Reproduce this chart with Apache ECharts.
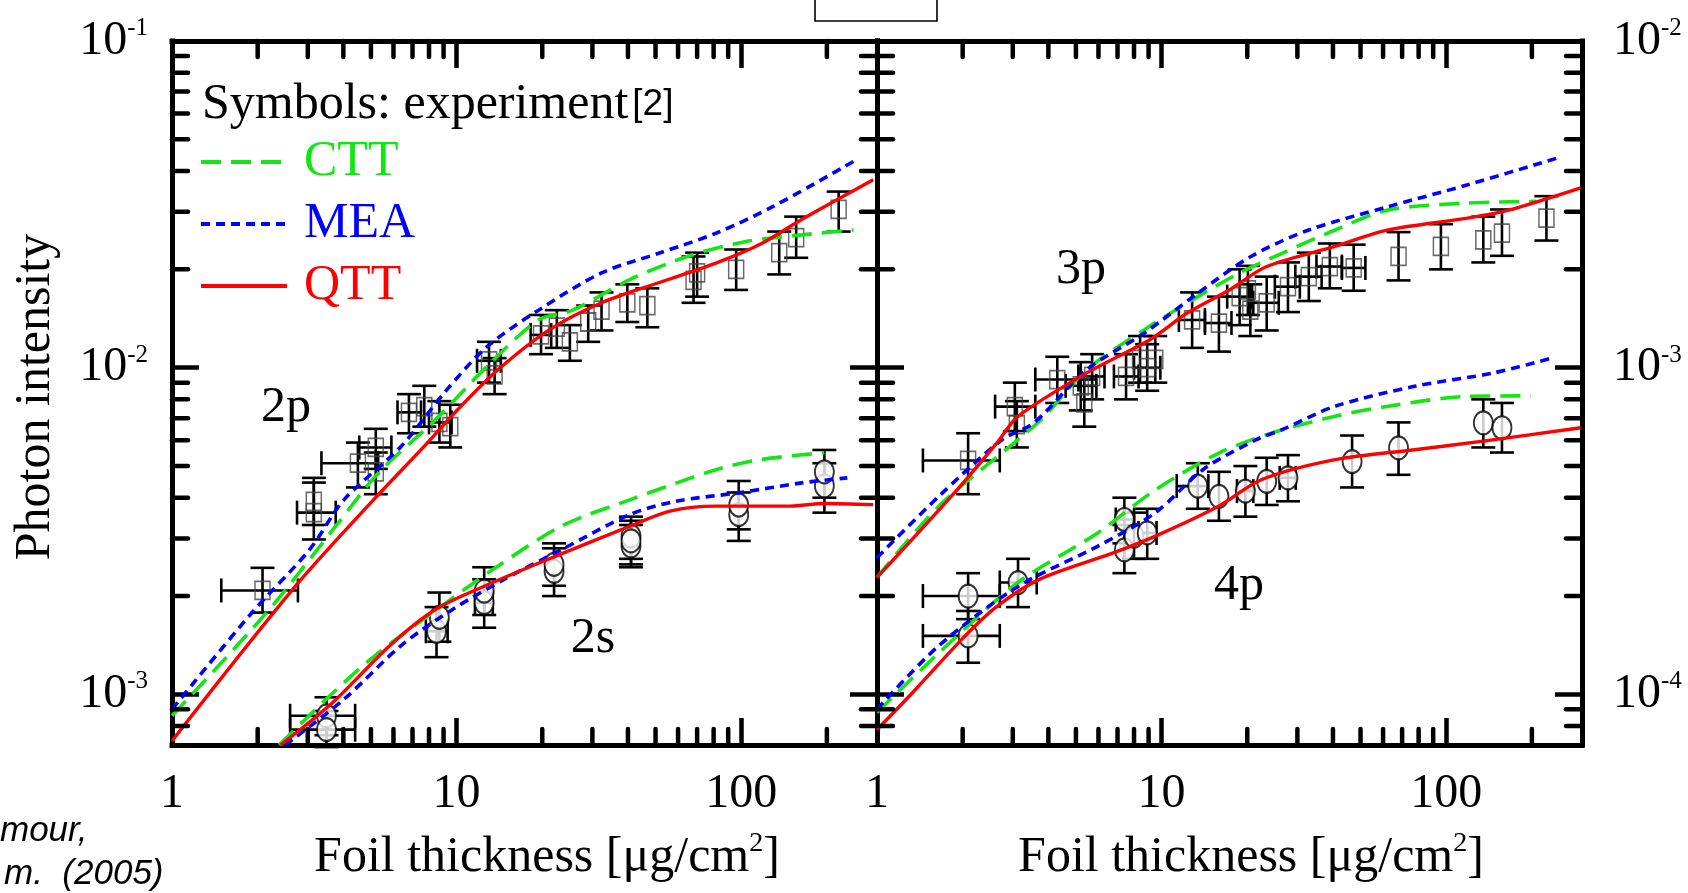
<!DOCTYPE html>
<html>
<head>
<meta charset="utf-8">
<script src="https://cdn.jsdelivr.net/npm/echarts@6/dist/echarts.min.js"></script>
<style>
  html, body { margin: 0; padding: 0; background: #ffffff; }
  #chart { width: 1688px; height: 893px; }
</style>
</head>
<body>
<div id="chart"></div>
<script>
// ---------- axis ticks ----------
const xTickValues = [1, 10, 100];
const xTickLabels = ['1', '10', '100'];
const xMinorValues = [2, 3, 4, 5, 6, 7, 8, 9, 20, 30, 40, 50, 60, 70, 80, 90, 200];
const yTickExpLeft = [-3, -2, -1];
const yTickExpRight = [-4, -3, -2];
const yMinorLeft = [8e-4, 9e-4, 2e-3, 3e-3, 4e-3, 5e-3, 6e-3, 7e-3, 8e-3, 9e-3,
                    2e-2, 3e-2, 4e-2, 5e-2, 6e-2, 7e-2, 8e-2, 9e-2];
const yMinorRight = [8e-5, 9e-5, 2e-4, 3e-4, 4e-4, 5e-4, 6e-4, 7e-4, 8e-4, 9e-4,
                     2e-3, 3e-3, 4e-3, 5e-3, 6e-3, 7e-3, 8e-3, 9e-3];

// ---------- left panel: 2p / 2s ----------
const exp2pX   = [2.08, 3.15, 3.15, 4.5, 5.2, 5.2, 6.8, 7.7, 8.7, 9.5, 13.0, 13.6, 19.8, 22.5, 25, 29, 32.3, 39.8, 46.8, 68, 70, 96, 136, 156, 220];
const exp2pY   = [2.08e-3, 3.6e-3, 3.9e-3, 5.1e-3, 5.7e-3, 4.8e-3, 7.3e-3, 7.6e-3, 6.8e-3, 6.6e-3, 1.05e-2, 9.5e-3, 1.26e-2, 1.33e-2, 1.2e-2, 1.38e-2, 1.5e-2, 1.58e-2, 1.55e-2, 1.85e-2, 1.95e-2, 2.0e-2, 2.25e-2, 2.5e-2, 3.05e-2];
const exp2pLo  = [1.78e-3, 2.98e-3, 3.3e-3, 4.3e-3, 4.9e-3, 4.1e-3, 6.3e-3, 6.6e-3, 5.9e-3, 5.7e-3, 9.0e-3, 8.3e-3, 1.1e-2, 1.15e-2, 1.05e-2, 1.2e-2, 1.3e-2, 1.38e-2, 1.33e-2, 1.58e-2, 1.65e-2, 1.73e-2, 1.93e-2, 2.17e-2, 2.61e-2];
const exp2pHi  = [2.44e-3, 4.45e-3, 4.6e-3, 5.9e-3, 6.5e-3, 5.5e-3, 8.3e-3, 8.8e-3, 7.9e-3, 7.7e-3, 1.2e-2, 1.07e-2, 1.45e-2, 1.5e-2, 1.35e-2, 1.55e-2, 1.7e-2, 1.8e-2, 1.75e-2, 2.19e-2, 2.25e-2, 2.3e-2, 2.61e-2, 2.9e-2, 3.46e-2];
const exp2pXLo = [1.49, 2.75, null, 3.35, 4.55, null, 6.2, null, 8.0, null, 11.8, null, 18.2, null, null, null, null, null, null, null, null, null, null, null, null];
const exp2pXHi = [2.77, 3.76, null, 5.3, 5.9, null, 7.5, null, 9.6, null, 14.3, null, 21.5, null, null, null, null, null, null, null, null, null, null, null, null];

const exp2sX   = [3.49, 3.49, 8.5, 8.7, 12.5, 12.5, 22, 22, 41, 41, 41, 98, 98, 196, 196];
const exp2sY   = [8.6e-4, 7.8e-4, 1.56e-3, 1.72e-3, 1.91e-3, 2.07e-3, 2.38e-3, 2.5e-3, 2.85e-3, 3.05e-3, 2.95e-3, 3.55e-3, 3.8e-3, 4.35e-3, 4.8e-3];
const exp2sLo  = [7.5e-4, 6.9e-4, 1.3e-3, 1.45e-3, 1.6e-3, 1.75e-3, 2.0e-3, 2.15e-3, 2.45e-3, 2.6e-3, 2.5e-3, 2.95e-3, 3.2e-3, 3.6e-3, 4.0e-3];
const exp2sHi  = [9.8e-4, 8.9e-4, 1.85e-3, 2.05e-3, 2.25e-3, 2.45e-3, 2.8e-3, 2.9e-3, 3.3e-3, 3.5e-3, 3.4e-3, 4.15e-3, 4.5e-3, 5.1e-3, 5.6e-3];
const exp2sXLo = [2.6, 2.6, 7.8, null, 11.6, null, null, null, null, null, null, null, null, null, null];
const exp2sXHi = [4.4, 4.4, 9.3, null, 13.4, null, null, null, null, null, null, null, null, null, null];

const ctt2pX = [1, 2.15, 3.84, 5.31, 8.43, 12.8, 19.4, 25.6, 40.6, 64.7, 103, 163, 248];
const ctt2pY = [8.6e-4, 1.78e-3, 3.35e-3, 4.76e-3, 6.93e-3, 1.01e-2, 1.40e-2, 1.50e-2, 1.86e-2, 2.19e-2, 2.43e-2, 2.55e-2, 2.64e-2];
const mea2pX = [1, 1.91, 3.04, 4.02, 6.38, 9.25, 12.8, 19.4, 32.3, 51.3, 81.5, 129, 248];
const mea2pY = [9.0e-4, 1.78e-3, 2.77e-3, 3.94e-3, 5.74e-3, 8.57e-3, 1.16e-2, 1.50e-2, 1.95e-2, 2.24e-2, 2.58e-2, 3.11e-2, 4.28e-2];
const qtt2pX = [1, 2.71, 5.19, 7.69, 10.1, 14.0, 21.3, 32.3, 51.2, 81.5, 118, 163, 291];
const qtt2pY = [7.2e-4, 2.14e-3, 4.0e-3, 5.74e-3, 7.45e-3, 9.87e-3, 1.31e-2, 1.58e-2, 1.82e-2, 2.09e-2, 2.40e-2, 2.84e-2, 3.76e-2];

const ctt2sX = [2.38, 3.67, 5.31, 8.83, 13.4, 23.3, 40.6, 81.5, 118, 196];
const ctt2sY = [7.0e-4, 1.01e-3, 1.34e-3, 1.86e-3, 2.41e-3, 3.27e-3, 3.94e-3, 4.87e-3, 5.24e-3, 5.49e-3];
const mea2sX = [2.5, 4.02, 6.38, 9.68, 14.7, 23.3, 40.6, 58.9, 98, 163, 236];
const mea2sY = [7.0e-4, 9.66e-4, 1.41e-3, 1.82e-3, 2.25e-3, 2.77e-3, 3.55e-3, 3.9e-3, 4.14e-3, 4.44e-3, 4.6e-3];
const qtt2sX = [2.41, 3.67, 5.82, 8.43, 13.4, 22.3, 40.6, 56.2, 81.5, 149, 196, 291];
const qtt2sY = [7.0e-4, 9.44e-4, 1.41e-3, 1.82e-3, 2.2e-3, 2.65e-3, 3.27e-3, 3.64e-3, 3.77e-3, 3.77e-3, 3.84e-3, 3.81e-3];

// ---------- right panel: 3p / 4p ----------
const exp3pX   = [2.09, 3.05, 3.1, 4.3, 5.2, 5.35, 5.7, 7.5, 8.4, 8.9, 9.5, 12.8, 15.9, 18.8, 20.1, 20.5, 23.4, 27.8, 32.9, 39, 47.3, 68, 95.8, 135, 157, 225];
const exp3pY   = [5.2e-4, 7.6e-4, 6.7e-4, 9.2e-4, 8.8e-4, 7.8e-4, 9.4e-4, 9.4e-4, 1.06e-3, 1.0e-3, 1.06e-3, 1.40e-3, 1.37e-3, 1.65e-3, 1.73e-3, 1.5e-3, 1.58e-3, 1.77e-3, 1.90e-3, 2.04e-3, 2.02e-3, 2.19e-3, 2.35e-3, 2.46e-3, 2.58e-3, 2.87e-3];
const exp3pLo  = [4.1e-4, 6.4e-4, 5.7e-4, 7.8e-4, 7.4e-4, 6.6e-4, 8.0e-4, 8.0e-4, 9.0e-4, 8.5e-4, 9.0e-4, 1.15e-3, 1.12e-3, 1.35e-3, 1.45e-3, 1.25e-3, 1.3e-3, 1.48e-3, 1.6e-3, 1.75e-3, 1.72e-3, 1.85e-3, 2.0e-3, 2.1e-3, 2.2e-3, 2.45e-3];
const exp3pHi  = [6.3e-4, 9.0e-4, 7.9e-4, 1.08e-3, 1.04e-3, 9.2e-4, 1.1e-3, 1.1e-3, 1.25e-3, 1.18e-3, 1.25e-3, 1.7e-3, 1.65e-3, 2.0e-3, 2.05e-3, 1.8e-3, 1.9e-3, 2.1e-3, 2.25e-3, 2.4e-3, 2.38e-3, 2.6e-3, 2.75e-3, 2.9e-3, 3.05e-3, 3.35e-3];
const exp3pXLo = [1.45, 2.6, null, 3.6, 4.6, null, 5.1, 6.8, null, 8.0, null, 11.5, 14.2, 17.0, null, null, 21, 25, 29.5, 35, 43, null, null, null, null, null];
const exp3pXHi = [2.7, 3.6, null, 5.1, 5.9, null, 6.3, 8.3, null, 9.9, null, 14.2, 17.6, 20.8, null, null, 25.8, 30.6, 36.5, 43, 52, null, null, null, null, null];

const exp4pX   = [2.09, 2.09, 3.13, 7.4, 7.4, 8.0, 8.9, 13.4, 15.9, 19.7, 23.4, 27.8, 46.7, 68, 135, 157];
const exp4pY   = [2.0e-4, 1.51e-4, 2.2e-4, 3.43e-4, 2.77e-4, 3.05e-4, 3.12e-4, 4.34e-4, 4.04e-4, 4.19e-4, 4.49e-4, 4.6e-4, 5.16e-4, 5.68e-4, 6.78e-4, 6.55e-4];
const exp4pLo  = [1.7e-4, 1.25e-4, 1.85e-4, 2.9e-4, 2.35e-4, 2.6e-4, 2.6e-4, 3.7e-4, 3.4e-4, 3.5e-4, 3.8e-4, 3.9e-4, 4.3e-4, 4.7e-4, 5.7e-4, 5.5e-4];
const exp4pHi  = [2.35e-4, 1.8e-4, 2.6e-4, 4.0e-4, 3.3e-4, 3.6e-4, 3.7e-4, 5.1e-4, 4.8e-4, 5.0e-4, 5.3e-4, 5.4e-4, 6.2e-4, 6.8e-4, 8.0e-4, 7.8e-4];
const exp4pXLo = [1.45, 1.45, 2.7, 6.9, null, null, 8.3, 11.3, null, 18.4, null, 26, null, null, null, null];
const exp4pXHi = [2.7, 2.7, 3.64, 8.0, null, null, 9.6, 14.6, null, 21, null, 29.6, null, null, null, null];

const ctt3pX = [1, 1.65, 3.13, 3.88, 5.46, 8.73, 13.4, 18.8, 26.5, 40.7, 62.5, 119, 207];
const ctt3pY = [2.28e-4, 3.77e-4, 6.02e-4, 7.1e-4, 9.86e-4, 1.31e-3, 1.65e-3, 1.95e-3, 2.24e-3, 2.64e-3, 3.04e-3, 3.19e-3, 3.23e-3];
const mea3pX = [1, 1.65, 2.75, 3.56, 5.46, 8.73, 13.4, 20.6, 32.9, 62.5, 119, 245];
const mea3pY = [2.62e-4, 4.04e-4, 6.02e-4, 6.78e-4, 9.86e-4, 1.28e-3, 1.69e-3, 2.19e-3, 2.64e-3, 3.11e-3, 3.63e-3, 4.38e-3];
const qtt3pX = [1, 1.87, 2.64, 3.13, 5.46, 9.12, 12.3, 17.3, 23.4, 40.6, 62.4, 119, 167, 297];
const qtt3pY = [2.28e-4, 4.14e-4, 5.89e-4, 7.1e-4, 9.64e-4, 1.22e-3, 1.47e-3, 1.73e-3, 2.04e-3, 2.35e-3, 2.64e-3, 2.87e-3, 3.04e-3, 3.55e-3];

const ctt4pX = [1, 1.65, 3.13, 5.96, 9.52, 15.9, 24.4, 40.7, 62.5, 119, 198];
const ctt4pY = [8.8e-5, 1.34e-4, 2.2e-4, 3.12e-4, 4.23e-4, 5.48e-4, 6.31e-4, 7.1e-4, 7.62e-4, 8.17e-4, 8.2e-4];
const mea4pX = [1, 1.65, 3.13, 5.96, 9.52, 14.0, 21.5, 26.5, 40.7, 77.4, 147, 235];
const mea4pY = [9.0e-5, 1.41e-4, 2.14e-4, 2.84e-4, 3.6e-4, 4.88e-4, 6.02e-4, 6.46e-4, 7.62e-4, 8.77e-4, 9.64e-4, 1.07e-3];
const qtt4pX = [1, 1.33, 2.04, 2.64, 3.72, 6.76, 9.52, 15.9, 22.4, 40.7, 77.4, 135, 297];
const qtt4pY = [7.8e-5, 1.01e-4, 1.51e-4, 1.86e-4, 2.25e-4, 2.71e-4, 3.05e-4, 3.77e-4, 4.54e-4, 5.23e-4, 5.61e-4, 5.96e-4, 6.55e-4];

// ---------- styling ----------
const SERIF = 'Liberation Serif';
const SANS = 'Liberation Sans';
const GREEN = '#14e614';
const BLUE = '#0000ff';
const RED = '#ff0000';
const MAJOR = 27, MINOR = 16, TICK_W = 4.5;

const chart = echarts.init(document.getElementById('chart'), null, { renderer: 'canvas' });

function pairs(xs, ys) { return xs.map((x, i) => [x, ys[i]]); }

function xLabel(v) {
  const i = xTickValues.findIndex(t => Math.abs(t - v) / t < 1e-6);
  return i >= 0 ? xTickLabels[i] : '';
}
function yLabelFor(exps) {
  return function (v) {
    const e = Math.log10(v);
    const r = Math.round(e);
    if (Math.abs(e - r) > 1e-6 || exps.indexOf(r) < 0) return '';
    return '{n|10}{s|' + r + '}';
  };
}

const labelRich = {
  n: { fontFamily: SERIF, fontSize: 48, color: '#000', lineHeight: 50 },
  s: { fontFamily: SERIF, fontSize: 25, color: '#000', lineHeight: 26, verticalAlign: 'top' }
};

function xAxisDef(grid, pos, showLabel) {
  return {
    type: 'log', logBase: 10, min: 1, max: 300, gridIndex: grid, position: pos,
    axisLine: { show: true, lineStyle: { color: '#000', width: 5, cap: 'square' } },
    axisTick: { show: true, inside: true, length: MAJOR, lineStyle: { color: '#000', width: TICK_W } },
    axisLabel: {
      show: showLabel, margin: 24, formatter: xLabel,
      fontFamily: SERIF, fontSize: 48, color: '#000', lineHeight: 50
    },
    splitLine: { show: false }, minorTick: { show: false }
  };
}
function yAxisDef(grid, pos, min, max, exps, showLabel, margin) {
  return {
    type: 'log', logBase: 10, min: min, max: max, gridIndex: grid, position: pos,
    axisLine: { show: true, lineStyle: { color: '#000', width: 5, cap: 'square' } },
    axisTick: { show: true, inside: true, length: MAJOR, lineStyle: { color: '#000', width: TICK_W } },
    axisLabel: {
      show: showLabel, margin: margin, formatter: yLabelFor(exps),
      fontFamily: SERIF, fontSize: 48, color: '#000', rich: labelRich
    },
    splitLine: { show: false }, minorTick: { show: false }
  };
}

// minor ticks drawn through each grid's own coordinate system
function xMinorSeries(xi, yi, yRef) {
  return {
    type: 'custom', name: 'xMinor' + xi, xAxisIndex: xi, yAxisIndex: yi, silent: true, z: 6,
    data: xMinorValues.map(v => [v, yRef]),
    renderItem: function (params, api) {
      const p = api.coord([api.value(0), api.value(1)]);
      const cs = params.coordSys;
      const st = { stroke: '#000', lineWidth: TICK_W, lineCap: 'round' };
      return {
        type: 'group', children: [
          { type: 'line', shape: { x1: p[0], y1: cs.y + cs.height, x2: p[0], y2: cs.y + cs.height - MINOR }, style: st },
          { type: 'line', shape: { x1: p[0], y1: cs.y, x2: p[0], y2: cs.y + MINOR }, style: st }
        ]
      };
    }
  };
}
function yMinorSeries(xi, yi, values) {
  return {
    type: 'custom', name: 'yMinor' + yi, xAxisIndex: xi, yAxisIndex: yi, silent: true, z: 6,
    data: values.map(v => [10, v]),
    renderItem: function (params, api) {
      const p = api.coord([api.value(0), api.value(1)]);
      const cs = params.coordSys;
      const st = { stroke: '#000', lineWidth: TICK_W, lineCap: 'round' };
      return {
        type: 'group', children: [
          { type: 'line', shape: { x1: cs.x, y1: p[1], x2: cs.x + MINOR, y2: p[1] }, style: st },
          { type: 'line', shape: { x1: cs.x + cs.width, y1: p[1], x2: cs.x + cs.width - MINOR, y2: p[1] }, style: st }
        ]
      };
    }
  };
}

// experimental error bars (vertical, plus horizontal where given)
function errorBars(name, xi, yi, xs, ys, lo, hi, xlo, xhi) {
  const data = xs.map((x, i) => [x, ys[i], lo[i], hi[i],
    xlo[i] == null ? NaN : xlo[i], xhi[i] == null ? NaN : xhi[i]]);
  return {
    type: 'custom', name: name, xAxisIndex: xi, yAxisIndex: yi, silent: true, z: 2,
    data: data,
    renderItem: function (params, api) {
      const x = api.value(0), y = api.value(1);
      const a = api.coord([x, api.value(2)]);
      const b = api.coord([x, api.value(3)]);
      const st = { stroke: '#000', lineWidth: 2.6 };
      const cap = 12;
      const kids = [
        { type: 'line', shape: { x1: a[0], y1: a[1], x2: b[0], y2: b[1] }, style: st },
        { type: 'line', shape: { x1: a[0] - cap, y1: a[1], x2: a[0] + cap, y2: a[1] }, style: st },
        { type: 'line', shape: { x1: b[0] - cap, y1: b[1], x2: b[0] + cap, y2: b[1] }, style: st }
      ];
      const xl = api.value(4), xh = api.value(5);
      if (!isNaN(xl) && !isNaN(xh)) {
        const c = api.coord([xl, y]);
        const d = api.coord([xh, y]);
        kids.push({ type: 'line', shape: { x1: c[0], y1: c[1], x2: d[0], y2: d[1] }, style: st });
        kids.push({ type: 'line', shape: { x1: c[0], y1: c[1] - cap, x2: c[0], y2: c[1] + cap }, style: st });
        kids.push({ type: 'line', shape: { x1: d[0], y1: d[1] - cap, x2: d[0], y2: d[1] + cap }, style: st });
      }
      return { type: 'group', children: kids };
    }
  };
}

function squares(name, xi, yi, xs, ys) {
  return {
    type: 'scatter', name: name, xAxisIndex: xi, yAxisIndex: yi, z: 3, silent: true,
    symbol: 'rect', symbolSize: [15, 18],
    itemStyle: { color: 'rgba(255,255,255,0)', borderColor: '#444', borderWidth: 1.6 },
    data: pairs(xs, ys)
  };
}
function circles(name, xi, yi, xs, ys) {
  return {
    type: 'scatter', name: name, xAxisIndex: xi, yAxisIndex: yi, z: 3, silent: true,
    symbol: 'circle', symbolSize: [19, 23],
    itemStyle: { color: '#ffffff', borderColor: '#000', borderWidth: 2 },
    data: pairs(xs, ys)
  };
}

const lineStyles = {
  CTT: { color: GREEN, width: 3.6, type: [20, 10] },
  MEA: { color: BLUE, width: 3.6, type: [9, 6] },
  QTT: { color: RED, width: 3.4, type: 'solid' }
};
function curve(name, xi, yi, xs, ys) {
  return {
    type: 'line', name: name, xAxisIndex: xi, yAxisIndex: yi, z: 4,
    symbol: 'none', smooth: 0.3, clip: true, silent: true,
    itemStyle: { color: lineStyles[name].color },
    lineStyle: lineStyles[name],
    data: pairs(xs, ys)
  };
}

const option = {
  animation: false,
  backgroundColor: '#ffffff',
  grid: [
    { left: 172, top: 41, width: 705, height: 704 },
    { left: 877, top: 41, width: 705, height: 704 }
  ],
  xAxis: [
    xAxisDef(0, 'bottom', true),
    xAxisDef(0, 'top', false),
    xAxisDef(1, 'bottom', true),
    xAxisDef(1, 'top', false)
  ],
  yAxis: [
    yAxisDef(0, 'left', 7e-4, 0.1, yTickExpLeft, true, 24),
    yAxisDef(0, 'right', 7e-4, 0.1, yTickExpLeft, false, 24),
    yAxisDef(1, 'left', 7e-5, 0.01, yTickExpRight, false, 24),
    yAxisDef(1, 'right', 7e-5, 0.01, yTickExpRight, true, 31)
  ],
  legend: {
    data: [
      { name: 'CTT', textStyle: { color: '#10e610' } },
      { name: 'MEA', textStyle: { color: BLUE } },
      { name: 'QTT', textStyle: { color: RED } }
    ],
    orient: 'vertical', left: 199, top: 137, padding: 0,
    itemWidth: 86, itemHeight: 14, itemGap: 12,
    selectedMode: false,
    itemStyle: { opacity: 0, borderWidth: 0 },
    lineStyle: { width: 4, type: 'inherit', color: 'inherit' },
    textStyle: { fontFamily: SERIF, fontSize: 50, lineHeight: 50, padding: [0, 0, 0, 12] }
  },
  graphic: [
    {
      type: 'text', left: 202, top: 80,
      style: {
        text: '{a|Symbols: experiment}{b|[2]}',
        rich: {
          a: { fontFamily: SERIF, fontSize: 50, fill: '#000', lineHeight: 50 },
          b: { fontFamily: SANS, fontSize: 37, fill: '#000', lineHeight: 50, padding: [0, 0, 0, 4] }
        }
      }
    },
    {
      type: 'text', x: 36, y: 397, rotation: Math.PI / 2,
      style: { text: 'Photon intensity', fontFamily: SERIF, fontSize: 50, fill: '#000', align: 'center', verticalAlign: 'middle' }
    },
    {
      type: 'text', x: 547, y: 858,
      style: {
        text: '{m|Foil thickness [μg/cm}{s|2}{m|]}', align: 'center', verticalAlign: 'middle',
        rich: {
          m: { fontFamily: SERIF, fontSize: 50, fill: '#000', lineHeight: 56 },
          s: { fontFamily: SERIF, fontSize: 28, fill: '#000', lineHeight: 30, verticalAlign: 'top' }
        }
      }
    },
    {
      type: 'text', x: 1251, y: 858,
      style: {
        text: '{m|Foil thickness [μg/cm}{s|2}{m|]}', align: 'center', verticalAlign: 'middle',
        rich: {
          m: { fontFamily: SERIF, fontSize: 50, fill: '#000', lineHeight: 56 },
          s: { fontFamily: SERIF, fontSize: 28, fill: '#000', lineHeight: 30, verticalAlign: 'top' }
        }
      }
    },
    { type: 'text', x: 286, y: 408, style: { text: '2p', fontFamily: SERIF, fontSize: 50, fill: '#000', align: 'center', verticalAlign: 'middle' } },
    { type: 'text', x: 593, y: 639, style: { text: '2s', fontFamily: SERIF, fontSize: 50, fill: '#000', align: 'center', verticalAlign: 'middle' } },
    { type: 'text', x: 1081, y: 270, style: { text: '3p', fontFamily: SERIF, fontSize: 50, fill: '#000', align: 'center', verticalAlign: 'middle' } },
    { type: 'text', x: 1239, y: 586, style: { text: '4p', fontFamily: SERIF, fontSize: 50, fill: '#000', align: 'center', verticalAlign: 'middle' } },
    { type: 'rect', shape: { x: 815, y: -2, width: 122, height: 23 }, style: { fill: 'none', stroke: '#000', lineWidth: 1.6 } },
    { type: 'text', x: 0, y: 831, style: { text: 'mour,', fontFamily: SANS, fontStyle: 'italic', fontSize: 35, fill: '#000', align: 'left', verticalAlign: 'middle' } },
    { type: 'text', x: 4, y: 874, style: { text: 'm.  (2005)', fontFamily: SANS, fontStyle: 'italic', fontSize: 35, fill: '#000', align: 'left', verticalAlign: 'middle' } }
  ],
  series: [
    // left panel
    errorBars('err2p', 0, 0, exp2pX, exp2pY, exp2pLo, exp2pHi, exp2pXLo, exp2pXHi),
    errorBars('err2s', 0, 0, exp2sX, exp2sY, exp2sLo, exp2sHi, exp2sXLo, exp2sXHi),
    squares('exp2p', 0, 0, exp2pX, exp2pY),
    circles('exp2s', 0, 0, exp2sX, exp2sY),
    curve('CTT', 0, 0, ctt2pX, ctt2pY),
    curve('MEA', 0, 0, mea2pX, mea2pY),
    curve('QTT', 0, 0, qtt2pX, qtt2pY),
    curve('CTT', 0, 0, ctt2sX, ctt2sY),
    curve('MEA', 0, 0, mea2sX, mea2sY),
    curve('QTT', 0, 0, qtt2sX, qtt2sY),
    xMinorSeries(0, 0, 0.01),
    yMinorSeries(0, 0, yMinorLeft),
    // right panel
    errorBars('err3p', 2, 2, exp3pX, exp3pY, exp3pLo, exp3pHi, exp3pXLo, exp3pXHi),
    errorBars('err4p', 2, 2, exp4pX, exp4pY, exp4pLo, exp4pHi, exp4pXLo, exp4pXHi),
    squares('exp3p', 2, 2, exp3pX, exp3pY),
    circles('exp4p', 2, 2, exp4pX, exp4pY),
    curve('CTT', 2, 2, ctt3pX, ctt3pY),
    curve('MEA', 2, 2, mea3pX, mea3pY),
    curve('QTT', 2, 2, qtt3pX, qtt3pY),
    curve('CTT', 2, 2, ctt4pX, ctt4pY),
    curve('MEA', 2, 2, mea4pX, mea4pY),
    curve('QTT', 2, 2, qtt4pX, qtt4pY),
    xMinorSeries(2, 2, 0.001),
    yMinorSeries(2, 2, yMinorRight)
  ]
};

chart.setOption(option);
</script>
</body>
</html>
